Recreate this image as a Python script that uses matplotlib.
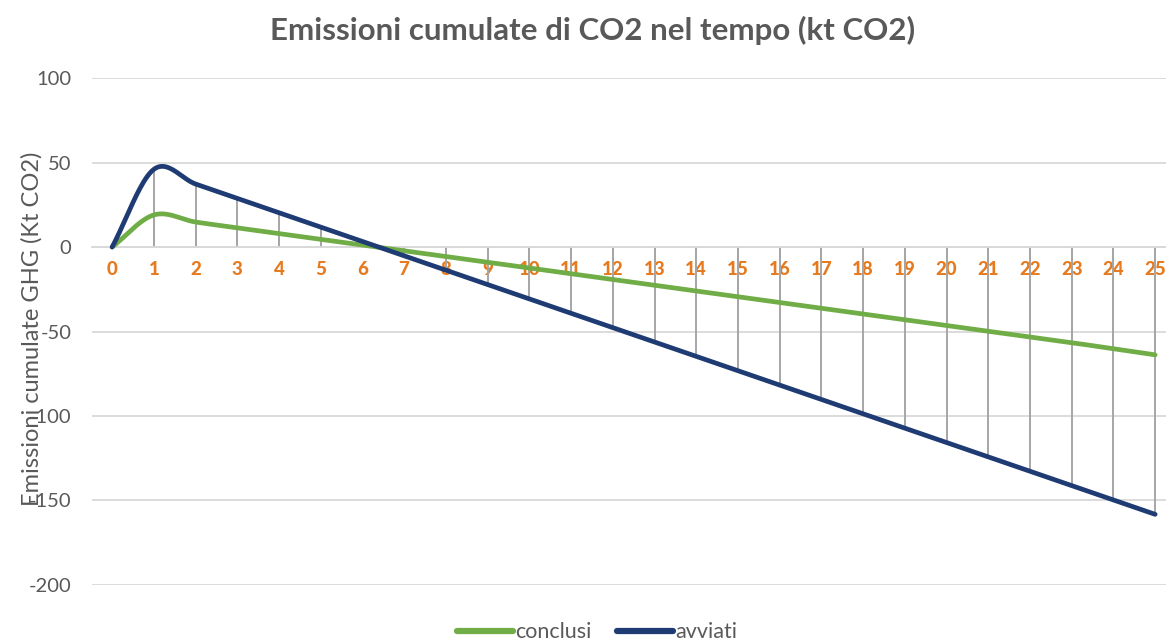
import numpy as np
import matplotlib
matplotlib.use("Agg")
import matplotlib.pyplot as plt
from matplotlib.lines import Line2D

plt.rcParams['axes.unicode_minus'] = False
plt.rcParams['font.family'] = ['Lato', 'DejaVu Sans']

years = list(range(0, 26))
conclusi = [0, 19, 14.8, 11.4, 8.0, 4.6, 1.2, -2.2, -5.6, -9.0, -12.4, -15.8, -19.2,
            -22.6, -26.0, -29.4, -32.8, -36.2, -39.6, -43.0, -46.4, -49.8, -53.2,
            -56.6, -60.2, -63.8]
avviati = [0, 46, 37.3, 28.8, 20.3, 11.8, 3.3, -5.2, -13.7, -22.2, -30.7, -39.2, -47.7,
           -56.2, -64.7, -73.2, -81.7, -90.2, -98.7, -107.2, -115.7, -124.2, -132.7,
           -141.2, -149.7, -158.2]
series_names = ["conclusi", "avviati"]
series_colors = ["#70AD47", "#1F3B73"]
title = "Emissioni cumulate di CO2 nel tempo (kt CO2)"
ylabel = "Emissioni cumulate GHG (Kt CO2)"
yticks = [100, 50, 0, -50, -100, -150, -200]


def smooth(xs, ys, n=24):
    """Catmull-Rom rendering of a line through the given points (like Excel's smoothed line)."""
    xs = np.asarray(xs, float)
    ys = np.asarray(ys, float)
    px = np.concatenate([[2 * xs[0] - xs[1]], xs, [2 * xs[-1] - xs[-2]]])
    py = np.concatenate([[2 * ys[0] - ys[1]], ys, [2 * ys[-1] - ys[-2]]])
    outx, outy = [], []
    t = np.linspace(0, 1, n, endpoint=False)
    for i in range(1, len(px) - 2):
        for arr, out in ((px, outx), (py, outy)):
            p0, p1, p2, p3 = arr[i - 1], arr[i], arr[i + 1], arr[i + 2]
            out.extend(0.5 * ((2 * p1) + (-p0 + p2) * t + (2 * p0 - 5 * p1 + 4 * p2 - p3) * t ** 2
                              + (-p0 + 3 * p1 - 3 * p2 + p3) * t ** 3))
    outx.append(xs[-1])
    outy.append(ys[-1])
    return np.array(outx), np.array(outy)


fig = plt.figure(figsize=(11.66, 6.4), dpi=100)
ax = fig.add_axes([0.079, 0.086, 0.921, 0.792])

ax.set_xlim(-0.48, 25.26)
ax.set_ylim(-200, 100)
ax.set_yticks(yticks)
ax.yaxis.grid(True, color="#D9D9D9", linewidth=1.3)
ax.set_axisbelow(True)
for s in ax.spines.values():
    s.set_visible(False)
ax.tick_params(axis='y', length=0, labelsize=14.5, labelcolor="#595959", pad=15)

# drop lines
for vals in (conclusi, avviati):
    ax.vlines(years[1:], 0, vals[1:], color="#A6A6A6", linewidth=1.4, zorder=2)

for vals, c in zip((conclusi, avviati), series_colors):
    sx, sy = smooth(years, vals)
    ax.plot(sx, sy, color=c, linewidth=3.4, solid_capstyle='round', zorder=3)

# category axis at zero with orange bold labels
ax.spines['bottom'].set_visible(True)
ax.spines['bottom'].set_position(('data', 0))
ax.spines['bottom'].set_color("#D9D9D9")
ax.spines['bottom'].set_linewidth(1.3)
ax.set_xticks(years)
ax.tick_params(axis='x', length=0, pad=10, labelsize=13.5, labelcolor="#E67A1E")
ax.set_xticklabels([str(y) for y in years], fontweight='black')

fig.text(0.508, 0.953, title, ha='center', va='center', fontsize=22.5,
         fontweight='bold', color="#595959")
fig.text(0.027, 0.486, ylabel, rotation=90, ha='center', va='center',
         fontsize=17, color="#595959")

handles = [Line2D([0], [0], color=c, linewidth=4.5, solid_capstyle='round') for c in series_colors]
fig.legend(handles, series_names, loc='center', bbox_to_anchor=(0.512, 0.012), ncol=2,
           frameon=False, fontsize=15.5, labelcolor="#595959", handlelength=2.6,
           handletextpad=0.1, columnspacing=1.2)

fig.savefig("out.png", dpi=100)
